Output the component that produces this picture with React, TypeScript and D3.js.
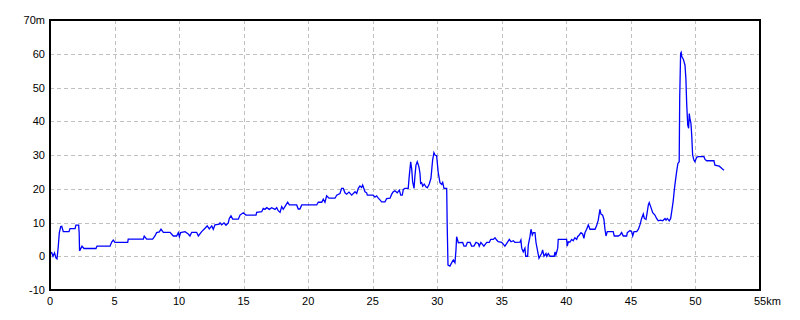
import React from "react";
import * as d3 from "d3";

const distanceKm: number[] = [
  0, 0.13, 0.23, 0.35, 0.46, 0.54, 0.64, 0.72, 0.83, 0.91, 1.03, 1.47, 1.55, 1.94, 2.01, 2.22, 2.26, 2.29, 2.48, 2.63,
  3.56, 3.64, 4.65, 4.78, 4.9, 5.03, 6.02, 6.06, 7.23, 7.3, 7.49, 7.95, 8.13, 8.26, 8.47, 8.6, 8.78, 9.3,
  9.55, 9.81, 9.94, 10.02, 10.12, 10.46, 10.71, 10.84, 10.98, 11.36, 11.49, 11.75, 12.01, 12.18, 12.34, 12.53, 12.65,
  12.78, 13.11, 13.17, 13.3, 13.48, 13.63, 13.81, 13.89, 14.02, 14.15, 14.59, 14.72, 14.97, 15.18, 15.96, 16.01,
  16.4, 16.52, 16.65, 16.79, 16.99, 17.17, 17.43, 17.56, 17.68, 17.82, 17.95, 18.07, 18.28, 18.41, 18.54, 19.11,
  19.23, 19.36, 19.5, 20.66, 20.78, 21.05, 21.17, 21.3, 21.43, 21.61, 22.08, 22.21, 22.46, 22.59, 22.72, 22.85,
  22.98, 23.16, 23.37, 23.63, 23.76, 23.88, 24.01, 24.14, 24.22, 24.4, 24.53, 24.58, 25.04, 25.17, 25.3, 25.43,
  25.56, 25.69, 25.95, 26.08, 26.34, 26.47, 26.59, 26.72, 26.9, 27.06, 27.17, 27.29, 27.37, 27.5, 27.75, 27.83,
  27.94, 28.02, 28.09, 28.2, 28.27, 28.35, 28.45, 28.58, 28.66, 28.71, 28.79, 28.87, 28.99, 29.12, 29.23, 29.38,
  29.51, 29.64, 29.74, 29.82, 29.95, 30.08, 30.21, 30.34, 30.42, 30.52, 30.73, 30.77, 30.83, 30.98, 31.12, 31.24,
  31.37, 31.45, 31.5, 31.63, 31.97, 32.07, 32.22, 32.33, 32.54, 32.66, 32.84, 33.0, 33.18, 33.25, 33.38, 33.61,
  33.83, 34.03, 34.14, 34.34, 34.47, 34.6, 34.72, 34.99, 35.11, 35.24, 35.38, 35.58, 35.71, 35.89, 36.02, 36.41,
  36.48, 36.54, 36.66, 36.79, 36.85, 37.0, 37.05, 37.18, 37.26, 37.36, 37.44, 37.57, 37.65, 37.75, 37.88, 37.96,
  38.09, 38.16, 38.27, 38.42, 38.48, 38.6, 38.73, 39.06, 39.12, 39.19, 39.33, 39.37, 40.02, 40.07, 40.15, 40.28,
  40.41, 40.53, 40.66, 40.8, 40.87, 41.0, 41.13, 41.26, 41.36, 41.44, 41.57, 41.7, 41.83, 41.96, 42.22, 42.34,
  42.47, 42.6, 42.68, 42.81, 42.91, 42.99, 43.07, 43.17, 43.63, 43.71, 44.02, 44.15, 44.28, 44.41, 44.67, 44.72,
  44.93, 45.06, 45.14, 45.24, 45.45, 45.58, 45.7, 45.83, 45.96, 46.04, 46.17, 46.27, 46.35, 46.42, 46.53, 46.69,
  46.86, 46.99, 47.12, 47.3, 47.46, 47.64, 47.72, 47.82, 47.97, 48.08, 48.16, 48.28, 48.36, 48.44, 48.54, 48.64,
  48.74, 48.78, 48.85, 48.89, 48.95, 49.06, 49.19, 49.26, 49.32, 49.4, 49.47, 49.52, 49.57, 49.65, 49.71, 49.78,
  49.88, 49.96, 50.09, 50.22, 50.66, 50.74, 50.87, 51.43, 51.51, 51.84, 52.05, 52.21,
];

const elevationM: number[] = [
  1.0, 1.1, 0, 1, -0.5, -0.8, 2.8, 6.9, 8.8, 8.9, 7.3, 7.3, 8.2, 8.2, 9.2, 9.2, 6.9, 1.6, 3.0, 2.3,
  2.3, 3.0, 3.0, 4.2, 4.8, 4.1, 4.1, 5.1, 5.1, 6.0, 5.1, 5.1, 6.0, 7.0, 7.2, 8.0, 7.1, 7.1,
  6.0, 6.0, 7.0, 5.8, 7.0, 7.3, 6.6, 6.0, 7.1, 7.1, 6.0, 7.3, 8.3, 9.0, 8.1, 9.0, 8.0,
  9.3, 9.5, 9.9, 9.3, 9.9, 9.2, 9.9, 11.2, 12.0, 11.0, 11.0, 12.2, 12.9, 12.2, 12.2, 13.0,
  13.2, 14.2, 13.9, 14.4, 13.9, 14.4, 13.9, 14.4, 13.5, 13.0, 14.7, 13.9, 15.2, 16.0, 15.2, 15.2,
  14.0, 14.0, 15.2, 15.2, 16.0, 16.0, 16.9, 16.0, 17.9, 17.2, 17.2, 18.1, 18.6, 20.1, 20.1, 18.8,
  18.4, 19.0, 18.1, 19.1, 18.6, 20.1, 20.8, 20.4, 21.1, 19.1, 18.8, 18.1, 18.1, 17.5, 17.9, 17.2,
  16.7, 16.1, 16.1, 17.1, 17.2, 18.4, 19.1, 19.4, 18.8, 19.6, 18.1, 18.1, 19.8, 20.1, 20.1, 23.8,
  28.0, 25.8, 22.1, 20.1, 23.8, 27.0, 28.0, 26.5, 24.6, 21.6, 21.8, 20.8, 21.4, 20.6, 20.3, 21.4,
  23.1, 28.5, 30.7, 30.0, 29.8, 24.6, 21.8, 21.3, 21.9, 20.1, 20.1, 9.0, -2.6, -2.9, -1.9, -1.1,
  -1.9, 1.9, 5.8, 4.0, 4.1, 3.0, 3.0, 4.1, 4.1, 3.0, 3.0, 4.1, 3.8, 3.0, 4.1, 3.0,
  4.1, 4.1, 5.0, 5.0, 5.5, 4.8, 4.3, 4.1, 3.6, 3.0, 3.8, 5.0, 4.3, 4.6, 4.1, 4.2,
  4.8, 2.4, 1.3, 2.4, 0, 0, 3.3, 5.8, 8.0, 6.3, 7.0, 7.0, 4.0, 2.0, -0.6, 0,
  0.9, 1.9, 0, 0.8, 0, 0.8, 0, 0, 1.3, 0.4, 2.4, 5.0, 5.0, 3.0, 4.3, 4.2,
  5.0, 4.6, 5.5, 5.0, 5.8, 6.3, 7.0, 6.6, 5.3, 7.0, 8.0, 9.3, 8.0, 8.0, 8.0, 9.0,
  10.7, 13.9, 12.5, 12.2, 10.9, 8.0, 6.0, 7.3, 7.3, 6.0, 6.0, 6.3, 7.0, 6.0, 6.0, 7.0,
  7.6, 7.3, 6.0, 7.3, 7.3, 8.0, 9.3, 11.2, 12.5, 11.2, 10.9, 13.2, 15.2, 15.9, 14.7, 12.9,
  12.2, 11.2, 10.5, 10.7, 10.5, 11.2, 10.7, 11.2, 10.5, 11.2, 13.2, 16.5, 19.6, 22.1, 25.0, 27.5,
  28.0, 47.0, 60.1, 60.4, 59.1, 58.4, 56.6, 52.6, 45.3, 38.9, 37.9, 42.3, 40.9, 39.4, 35.9, 30.0,
  28.5, 28.0, 29.3, 29.5, 29.5, 28.7, 28.3, 28.3, 27.0, 26.7, 26.0, 25.5,
];

const xTicks: number[] = [0, 5, 10, 15, 20, 25, 30, 35, 40, 45, 50, 55];
const yTicks: number[] = [-10, 0, 10, 20, 30, 40, 50, 60, 70];
const xUnit = "km";
const yUnit = "m";

export default function App() {
  const W = 800;
  const H = 320;
  const left = 50, right = 760, top = 20, bottom = 290;
  const x = d3.scaleLinear().domain([0, 55]).range([left, right]);
  const y = d3.scaleLinear().domain([-10, 70]).range([bottom, top]);
  const pts = distanceKm.map((d, i) => [d, elevationM[i]] as [number, number]);
  const line = d3
    .line<[number, number]>()
    .x((d) => x(d[0]))
    .y((d) => y(d[1]));
  const font = "'Liberation Sans', Arial, sans-serif";
  const xMax = xTicks[xTicks.length - 1];
  const yMax = yTicks[yTicks.length - 1];
  return (
    <svg
      width={W}
      height={H}
      style={{ position: "absolute", left: 0, top: 0, background: "#fff" }}
    >
      <rect x={0} y={0} width={W} height={H} fill="#fff" />
      {xTicks
        .filter((t) => t > 0 && t < xMax)
        .map((t) => (
          <line
            key={"gx" + t}
            x1={Math.round(x(t)) + 0.5}
            x2={Math.round(x(t)) + 0.5}
            y1={top}
            y2={bottom}
            stroke="#c0c0c0"
            strokeDasharray="4,3"
          />
        ))}
      {yTicks
        .filter((t) => t > -10 && t < yMax)
        .map((t) => (
          <line
            key={"gy" + t}
            x1={left}
            x2={right}
            y1={Math.round(y(t)) + 0.5}
            y2={Math.round(y(t)) + 0.5}
            stroke="#c0c0c0"
            strokeDasharray="4,3"
          />
        ))}
      <path
        d={line(pts) || ""}
        fill="none"
        stroke="#0000ff"
        strokeWidth={1.3}
        strokeLinejoin="miter"
      />
      <rect
        x={left}
        y={top}
        width={right - left}
        height={bottom - top}
        fill="none"
        stroke="#000"
        strokeWidth={2}
      />
      {yTicks.map((t) => (
        <text
          key={"ty" + t}
          x={45}
          y={y(t) + 4}
          textAnchor="end"
          fontFamily={font}
          fontSize={11}
          fill="#000"
        >
          {t === yMax ? `${t}${yUnit}` : t}
        </text>
      ))}
      {xTicks.map((t) => (
        <text
          key={"tx" + t}
          x={x(t)}
          y={305}
          textAnchor={t === xMax ? "start" : "middle"}
          dx={t === xMax ? -6 : 0}
          fontFamily={font}
          fontSize={11}
          fill="#000"
        >
          {t === xMax ? `${t}${xUnit}` : t}
        </text>
      ))}
    </svg>
  );
}
